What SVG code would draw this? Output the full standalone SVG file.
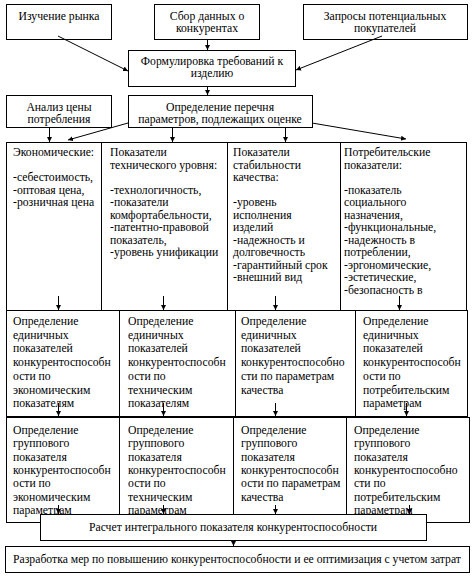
<svg xmlns="http://www.w3.org/2000/svg" width="473" height="577" viewBox="0 0 473 577" font-family="'Liberation Serif', 'Times New Roman', serif">
<style>
text, tspan{font-family:'Liberation Serif', 'Times New Roman', serif;font-size:11.7px;fill:#000}
.c{text-anchor:middle}
.b{fill:#fff;stroke:#000;stroke-width:1}
.l{stroke:#000;stroke-width:1;fill:none}
</style>
<defs>
<marker id="a" markerUnits="userSpaceOnUse" markerWidth="6" markerHeight="6" refX="5" refY="2.5" orient="auto"><path d="M0,0 L5,2.5 L0,5 z" fill="#000"/></marker>
</defs>
<rect width="473" height="577" fill="#fff"/>
<g id="n1"><rect class="b" x="6.5" y="4.5" width="105" height="35"/><text class="c" x="59" y="20">Изучение рынка</text></g>
<g id="n2"><rect class="b" x="154.5" y="4.5" width="105" height="35"/><text class="c" x="207" y="20">Сбор данных о</text><text class="c" x="207" y="32">конкурентах</text></g>
<g id="n3"><rect class="b" x="303.5" y="4.5" width="164" height="35"/><text class="c" x="385" y="20">Запросы потенциальных</text><text class="c" x="385" y="32">покупателей</text></g>
<g id="n4"><rect class="b" x="128.5" y="50.5" width="167" height="36"/><text class="c" x="212" y="65">Формулировка требований к</text><text class="c" x="212" y="77">изделию</text></g>
<g id="n5"><rect class="b" x="6.5" y="95.5" width="105" height="32"/><text class="c" x="59" y="111">Анализ цены</text><text class="c" x="59" y="123">потребления</text></g>
<g id="n6"><rect class="b" x="128.5" y="95.5" width="184" height="32"/><text class="c" x="220" y="111">Определение перечня</text><text class="c" x="220" y="123">параметров, подлежащих оценке</text></g>

<g id="r1c1"><rect class="b" x="6.5" y="142.5" width="95" height="168"/><text x="13" y="156"><tspan x="13" dy="0">Экономические:</tspan><tspan x="13" dy="25">-себестоимость,</tspan><tspan x="13" dy="12.5">-оптовая цена,</tspan><tspan x="13" dy="12.5">-розничная цена</tspan></text></g>
<g id="r1c2"><rect class="b" x="101.5" y="142.5" width="126" height="168"/><text x="110" y="156"><tspan x="110" dy="0">Показатели</tspan><tspan x="110" dy="12.5">технического уровня:</tspan><tspan x="110" dy="25">-технологичность,</tspan><tspan x="110" dy="12.5">-показатели</tspan><tspan x="110" dy="12.5">комфортабельности,</tspan><tspan x="110" dy="12.5">-патентно-правовой</tspan><tspan x="110" dy="12.5">показатель,</tspan><tspan x="110" dy="12.5">-уровень унификации</tspan></text></g>
<g id="r1c3"><rect class="b" x="227.5" y="142.5" width="113" height="168"/><text x="233" y="156"><tspan x="233" dy="0">Показатели</tspan><tspan x="233" dy="12.5">стабильности</tspan><tspan x="233" dy="12.5">качества:</tspan><tspan x="233" dy="25">-уровень</tspan><tspan x="233" dy="12.5">исполнения</tspan><tspan x="233" dy="12.5">изделий</tspan><tspan x="233" dy="12.5">-надежность и</tspan><tspan x="233" dy="12.5">долговечность</tspan><tspan x="233" dy="12.5">-гарантийный срок</tspan><tspan x="233" dy="12.5">-внешний вид</tspan></text></g>
<g id="r1c4"><rect class="b" x="340.5" y="142.5" width="126" height="168"/><text x="344" y="156"><tspan x="344" dy="0">Потребительские</tspan><tspan x="344" dy="12.5">показатели:</tspan><tspan x="344" dy="25">-показатель</tspan><tspan x="344" dy="12.5">социального</tspan><tspan x="344" dy="12.5">назначения,</tspan><tspan x="344" dy="12.5">-функциональные,</tspan><tspan x="344" dy="12.5">-надежность в</tspan><tspan x="344" dy="12.5">потреблении,</tspan><tspan x="344" dy="12.5">-эргономические,</tspan><tspan x="344" dy="12.5">-эстетические,</tspan><tspan x="344" dy="12.5">-безопасность в</tspan></text></g>

<g id="r2c1"><rect class="b" x="6.5" y="310.5" width="113" height="106"/><text x="13" y="325"><tspan x="13" dy="0">Определение</tspan><tspan x="13" dy="13.7">единичных</tspan><tspan x="13" dy="13.7">показателей</tspan><tspan x="13" dy="13.7">конкурентоспособн</tspan><tspan x="13" dy="13.7">ости по</tspan><tspan x="13" dy="13.7">экономическим</tspan><tspan x="13" dy="13.7">показателям</tspan></text></g>
<g id="r2c2"><rect class="b" x="119.5" y="310.5" width="116" height="106"/><text x="128" y="325"><tspan x="128" dy="0">Определение</tspan><tspan x="128" dy="13.7">единичных</tspan><tspan x="128" dy="13.7">показателей</tspan><tspan x="128" dy="13.7">конкурентоспособн</tspan><tspan x="128" dy="13.7">ости по</tspan><tspan x="128" dy="13.7">техническим</tspan><tspan x="128" dy="13.7">показателям</tspan></text></g>
<g id="r2c3"><rect class="b" x="235.5" y="310.5" width="120" height="106"/><text x="241" y="325"><tspan x="241" dy="0">Определение</tspan><tspan x="241" dy="13.7">единичных</tspan><tspan x="241" dy="13.7">показателей</tspan><tspan x="241" dy="13.7">конкурентоспособно</tspan><tspan x="241" dy="13.7">сти по параметрам</tspan><tspan x="241" dy="13.7">качества</tspan></text></g>
<g id="r2c4"><rect class="b" x="355.5" y="310.5" width="112" height="106"/><text x="363" y="325"><tspan x="363" dy="0">Определение</tspan><tspan x="363" dy="13.7">единичных</tspan><tspan x="363" dy="13.7">показателей</tspan><tspan x="363" dy="13.7">конкурентоспособн</tspan><tspan x="363" dy="13.7">ости по</tspan><tspan x="363" dy="13.7">потребительским</tspan><tspan x="363" dy="13.7">параметрам</tspan></text></g>

<g id="r3c1"><rect class="b" x="6.5" y="417.5" width="113" height="105"/><text x="13" y="434"><tspan x="13" dy="0">Определение</tspan><tspan x="13" dy="13.3">группового</tspan><tspan x="13" dy="13.3">показателя</tspan><tspan x="13" dy="13.3">конкурентоспособн</tspan><tspan x="13" dy="13.3">ости по</tspan><tspan x="13" dy="13.3">экономическим</tspan><tspan x="13" dy="13.3">параметрам</tspan></text></g>
<g id="r3c2"><rect class="b" x="119.5" y="417.5" width="114" height="105"/><text x="128" y="434"><tspan x="128" dy="0">Определение</tspan><tspan x="128" dy="13.3">группового</tspan><tspan x="128" dy="13.3">показателя</tspan><tspan x="128" dy="13.3">конкурентоспособн</tspan><tspan x="128" dy="13.3">ости по</tspan><tspan x="128" dy="13.3">техническим</tspan><tspan x="128" dy="13.3">параметрам</tspan></text></g>
<g id="r3c3"><rect class="b" x="233.5" y="417.5" width="113" height="105"/><text x="241" y="434"><tspan x="241" dy="0">Определение</tspan><tspan x="241" dy="13.3">группового</tspan><tspan x="241" dy="13.3">показателя</tspan><tspan x="241" dy="13.3">конкурентоспособн</tspan><tspan x="241" dy="13.3">ости по параметрам</tspan><tspan x="241" dy="13.3">качества</tspan></text></g>
<g id="r3c4"><rect class="b" x="346.5" y="417.5" width="123" height="105"/><text x="354" y="434"><tspan x="354" dy="0">Определение</tspan><tspan x="354" dy="13.3">группового</tspan><tspan x="354" dy="13.3">показателя</tspan><tspan x="354" dy="13.3">конкурентоспособно</tspan><tspan x="354" dy="13.3">сти по</tspan><tspan x="354" dy="13.3">потребительским</tspan><tspan x="354" dy="13.3">параметрам</tspan></text></g>

<g id="n7"><rect class="b" x="40.5" y="514.5" width="386" height="26"/><text class="c" x="233" y="531">Расчет интегрального показателя конкурентоспособности</text></g>
<g id="n8"><rect class="b" x="5.5" y="546.5" width="464" height="26"/><text class="c" x="237" y="563">Разработка мер по повышению конкурентоспособности и ее оптимизация с учетом затрат</text></g>

<g id="connectors" class="l" marker-end="url(#a)">
<line x1="58" y1="36" x2="128" y2="71"/>
<line x1="207.5" y1="39" x2="207.5" y2="50"/>
<line x1="382" y1="36" x2="296" y2="70"/>
<line x1="207.5" y1="86" x2="207.5" y2="95"/>
<line x1="49.5" y1="127" x2="49.5" y2="142"/>
<line x1="128" y1="123" x2="68" y2="140"/>
<line x1="172.5" y1="127" x2="172.5" y2="142"/>
<line x1="285.5" y1="127" x2="285.5" y2="142"/>
<line x1="312" y1="123" x2="406" y2="139"/>
<line x1="58.5" y1="296" x2="58.5" y2="310"/>
<line x1="163.5" y1="296" x2="163.5" y2="310"/>
<line x1="275.5" y1="296" x2="275.5" y2="310"/>
<line x1="399.5" y1="296" x2="399.5" y2="310"/>
<line x1="58.5" y1="403" x2="58.5" y2="416"/>
<line x1="163.5" y1="403" x2="163.5" y2="416"/>
<line x1="275.5" y1="403" x2="275.5" y2="416"/>
<line x1="406.5" y1="403" x2="406.5" y2="416"/>
<line x1="58.5" y1="505" x2="58.5" y2="514"/>
<line x1="163.5" y1="505" x2="163.5" y2="514"/>
<line x1="275.5" y1="505" x2="275.5" y2="514"/>
<line x1="409.5" y1="505" x2="409.5" y2="514"/>
<line x1="233.5" y1="540" x2="233.5" y2="546"/>
</g>
</svg>
